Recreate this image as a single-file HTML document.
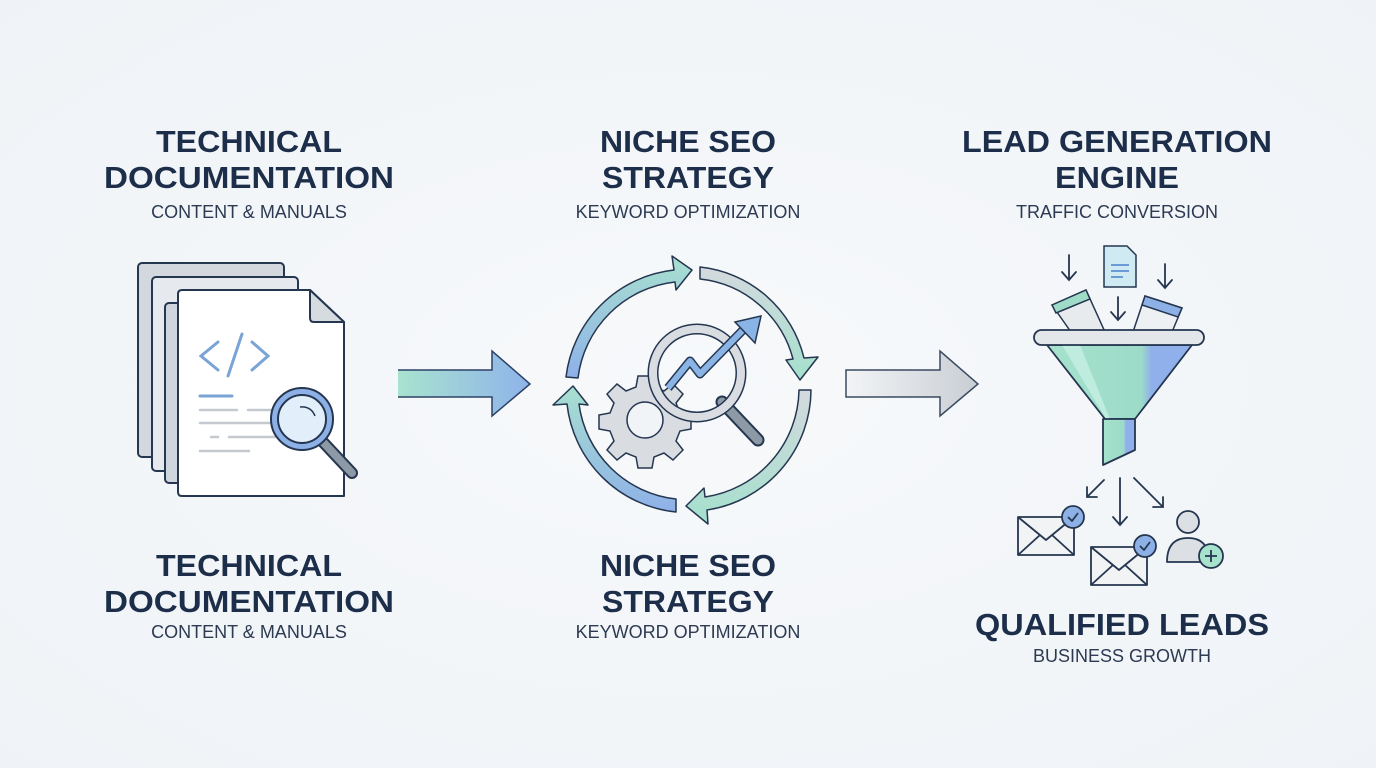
<!DOCTYPE html>
<html><head><meta charset="utf-8"><style>
html,body{margin:0;padding:0;width:1376px;height:768px;overflow:hidden;background:#f3f6f9}
svg{display:block}
.h{font-family:"Liberation Sans",sans-serif;font-weight:bold;font-size:31px;fill:#1d2e4a;text-anchor:middle}
.s{font-family:"Liberation Sans",sans-serif;font-size:18px;fill:#2c3a52;text-anchor:middle}
</style></head><body>
<svg width="1376" height="768" viewBox="0 0 1376 768" xmlns="http://www.w3.org/2000/svg">
<defs>
<radialGradient id="bg" cx="0.5" cy="0.5" r="0.8"><stop offset="0" stop-color="#f7f9fb"/><stop offset="1" stop-color="#eef2f6"/></radialGradient>
<linearGradient id="a1" x1="0" x2="1"><stop offset="0" stop-color="#a8e3cf"/><stop offset="1" stop-color="#8fb3ea"/></linearGradient>
<linearGradient id="a2" x1="0" x2="1"><stop offset="0" stop-color="#f2f4f6"/><stop offset="1" stop-color="#c9ced4"/></linearGradient>
<linearGradient id="fn" x1="0" x2="1"><stop offset="0" stop-color="#a6e2cc"/><stop offset="0.65" stop-color="#9ddbc9"/><stop offset="0.72" stop-color="#8fb0ea"/><stop offset="1" stop-color="#8fb0ea"/></linearGradient>
<linearGradient id="cl" x1="0" y1="0" x2="0" y2="1"><stop offset="0" stop-color="#a8e0cf"/><stop offset="1" stop-color="#8eb1e8"/></linearGradient>
<linearGradient id="cr" x1="0" y1="0" x2="0" y2="1"><stop offset="0" stop-color="#d4d9de"/><stop offset="1" stop-color="#a4e0cd"/></linearGradient>
</defs>
<rect width="1376" height="768" fill="url(#bg)"/>

<!-- texts -->
<text class="h" x="249" y="152" textLength="186" lengthAdjust="spacingAndGlyphs">TECHNICAL</text>
<text class="h" x="249" y="188" textLength="290" lengthAdjust="spacingAndGlyphs">DOCUMENTATION</text>
<text class="s" x="249" y="218">CONTENT &amp; MANUALS</text>
<text class="h" x="688" y="152" textLength="176" lengthAdjust="spacingAndGlyphs">NICHE SEO</text>
<text class="h" x="688" y="188" textLength="172" lengthAdjust="spacingAndGlyphs">STRATEGY</text>
<text class="s" x="688" y="218">KEYWORD OPTIMIZATION</text>
<text class="h" x="1117" y="152" textLength="310" lengthAdjust="spacingAndGlyphs">LEAD GENERATION</text>
<text class="h" x="1117" y="188" textLength="124" lengthAdjust="spacingAndGlyphs">ENGINE</text>
<text class="s" x="1117" y="218">TRAFFIC CONVERSION</text>
<text class="h" x="249" y="576" textLength="186" lengthAdjust="spacingAndGlyphs">TECHNICAL</text>
<text class="h" x="249" y="612" textLength="290" lengthAdjust="spacingAndGlyphs">DOCUMENTATION</text>
<text class="s" x="249" y="638">CONTENT &amp; MANUALS</text>
<text class="h" x="688" y="576" textLength="176" lengthAdjust="spacingAndGlyphs">NICHE SEO</text>
<text class="h" x="688" y="612" textLength="172" lengthAdjust="spacingAndGlyphs">STRATEGY</text>
<text class="s" x="688" y="638">KEYWORD OPTIMIZATION</text>
<text class="h" x="1122" y="635" textLength="294" lengthAdjust="spacingAndGlyphs">QUALIFIED LEADS</text>
<text class="s" x="1122" y="662">BUSINESS GROWTH</text>

<!-- documents -->
<g stroke="#253650" stroke-width="2" stroke-linejoin="round">
<rect x="138" y="263" width="146" height="194" rx="4" fill="#d3d8de"/>
<rect x="152" y="277" width="146" height="194" rx="4" fill="#e6e9ed"/>
<rect x="165" y="303" width="30" height="180" rx="4" fill="#cfd5dc"/>
<path d="M182 290 H310 L344 322 V496 H182 Q178 496 178 492 V294 Q178 290 182 290Z" fill="#fff"/>
<path d="M310 290 V318 Q310 322 314 322 H344Z" fill="#d6dbe0"/>
</g>
<g stroke="#7aa3d6" stroke-width="3" fill="none" stroke-linecap="round">
<path d="M218 342 L201 356 L218 370"/><path d="M242 334 L228 376"/><path d="M252 342 L268 356 L252 370"/>
<path d="M200 396 H232"/>
</g>
<g stroke="#c4c9cf" stroke-width="2.5" fill="none" stroke-linecap="round">
<path d="M200 410 H237 M248 410 H280"/><path d="M200 423 H276"/><path d="M211 437 H218 M229 437 H275"/><path d="M200 451 H249"/>
</g>
<path d="M323 442 L352 473" stroke="#253650" stroke-width="12" stroke-linecap="round"/>
<path d="M323 442 L352 473" stroke="#8d9aa6" stroke-width="8" stroke-linecap="round"/>
<circle cx="302" cy="419" r="31" fill="#8db1e6" stroke="#253650" stroke-width="2"/>
<circle cx="302" cy="419" r="24" fill="#e3eefb" stroke="#253650" stroke-width="2"/>
<path d="M300 407 Q311 406 315 416" stroke="#253650" stroke-width="1.5" fill="none"/>

<!-- arrow 1 -->
<path d="M398 370 H492 V351 L530 384 L492 416 V397 H398Z" fill="url(#a1)"/>
<path d="M398 370 H492 V351 L530 384 L492 416 V397 H398" fill="none" stroke="#2d4266" stroke-width="1.5"/>

<!-- cycle -->
<g stroke="#253650" stroke-width="1.5" stroke-linejoin="round">
<path d="M566 377 A122 122 0 0 1 674 270 L672 256 L692 270 L676 290 L675 282 A110 110 0 0 0 578 378Z" fill="url(#cl)"/>
<path d="M700 267 A120 120 0 0 1 804 358 L818 357 L800 380 L786 360 L793 359 A108 108 0 0 0 700 279Z" fill="url(#cr)"/>
<path d="M811 390 A122 122 0 0 1 707 510 L708 524 L686 506 L704 488 L705 497 A110 110 0 0 0 799 390Z" fill="url(#cr)"/>
<path d="M676 512 A122 122 0 0 1 567 404 L553 405 L573 386 L588 405 L579 404 A110 110 0 0 0 676 499Z" fill="url(#cl)"/>
</g>
<!-- gear -->
<g transform="translate(645,420)" stroke="#253650" stroke-width="1.5">
<path fill="#d9dde2" d="M-7,-44 H7 L9,-33 L19,-29 L28,-36 L38,-26 L31,-17 L35,-7 L46,-5 V9 L35,11 L31,21 L38,30 L28,40 L19,33 L9,37 L7,48 H-7 L-9,37 L-19,33 L-28,40 L-38,30 L-31,21 L-35,11 L-46,9 V-5 L-35,-7 L-31,-17 L-38,-26 L-28,-36 L-19,-29 L-9,-33Z"/>
<circle r="18" fill="#f1f4f7"/>
</g>
<path d="M722 402 L758 440" stroke="#253650" stroke-width="13" stroke-linecap="round"/>
<path d="M722 402 L758 440" stroke="#8d9aa6" stroke-width="9" stroke-linecap="round"/>
<circle cx="697" cy="373" r="44" fill="none" stroke="#253650" stroke-width="11"/>
<circle cx="697" cy="373" r="44" fill="none" stroke="#d9dde2" stroke-width="8"/>
<path d="M668 388 L690 361 L700 374 L743 330" stroke="#253650" stroke-width="9" fill="none" stroke-linejoin="round"/>
<path d="M668 388 L690 361 L700 374 L743 330" stroke="#8ab3e6" stroke-width="6" fill="none" stroke-linejoin="round"/>
<path d="M735 322 L761 316 L755 343Z" fill="#8ab3e6" stroke="#253650" stroke-width="1.5"/>

<!-- arrow 2 -->
<path d="M846 370 H940 V351 L978 384 L940 416 V397 H846Z" fill="url(#a2)" stroke="#3a4a60" stroke-width="1.5"/>

<!-- funnel inputs -->
<g stroke="#253650" stroke-width="1.8" fill="none" stroke-linecap="round">
<path d="M1069 255 V280 M1062 272 L1069 280 L1076 272"/>
<path d="M1118 297 V320 M1111 312 L1118 320 L1125 312"/>
<path d="M1165 264 V288 M1158 280 L1165 288 L1172 280"/>
</g>
<path d="M1104 246 H1127 L1136 255 V287 H1104Z" fill="#cfeaf3" stroke="#253650" stroke-width="1.5"/>
<path d="M1111 265 H1129 M1111 271 H1129 M1111 277 H1123" stroke="#6b9bd6" stroke-width="2"/>
<g stroke="#253650" stroke-width="1.5">
<path d="M1052 305 L1086 290 L1105 332 L1071 332Z" fill="#e8ebee"/>
<path d="M1052 305 L1086 290 L1090 299 L1056 313Z" fill="#9fdcc8"/>
<path d="M1145 296 L1182 308 L1172 332 L1133 332Z" fill="#eef1f4"/>
<path d="M1145 296 L1182 308 L1178 317 L1142 305Z" fill="#8db1e6"/>
</g>
<!-- funnel -->
<path d="M1047 345 H1192 L1135 419 H1105Z" fill="url(#fn)" stroke="#253650" stroke-width="1.8" stroke-linejoin="round"/>
<path d="M1062 345 H1080 L1110 419 H1106Z" fill="#c6efe2" opacity="0.8"/>
<rect x="1034" y="330" width="170" height="15" rx="7.5" fill="#e4e7ea" stroke="#253650" stroke-width="1.8"/>
<path d="M1103 419 H1135 V450 L1103 465Z" fill="url(#fn)" stroke="#253650" stroke-width="1.8" stroke-linejoin="round"/>
<!-- outputs -->
<g stroke="#253650" stroke-width="1.8" fill="none" stroke-linecap="round">
<path d="M1104 480 L1087 497 M1087 487 V497 H1097"/>
<path d="M1120 478 V525 M1113 517 L1120 525 L1127 517"/>
<path d="M1134 478 L1163 507 M1153 507 H1163 V497"/>
</g>
<g stroke="#253650" stroke-width="1.8" stroke-linejoin="round">
<rect x="1018" y="517" width="56" height="38" fill="#f1f3f5"/><path d="M1018 517 L1046 540 L1074 517 M1018 555 L1040 535 M1074 555 L1052 535" fill="none"/>
<circle cx="1073" cy="517" r="11" fill="#8db1e6"/><path d="M1068 517 L1072 521 L1078 513" fill="none"/>
<rect x="1091" y="547" width="56" height="38" fill="#f1f3f5"/><path d="M1091 547 L1119 570 L1147 547 M1091 585 L1113 565 M1147 585 L1125 565" fill="none"/>
<circle cx="1145" cy="546" r="11" fill="#8db1e6"/><path d="M1140 546 L1144 550 L1150 542" fill="none"/>
<circle cx="1188" cy="522" r="11" fill="#dcdfe3"/>
<path d="M1167 562 Q1167 538 1188 538 Q1209 538 1209 562Z" fill="#dcdfe3"/>
<circle cx="1211" cy="556" r="12" fill="#a6e2cc"/><path d="M1205 556 H1217 M1211 550 V562" fill="none"/>
</g>
</svg>
</body></html>
